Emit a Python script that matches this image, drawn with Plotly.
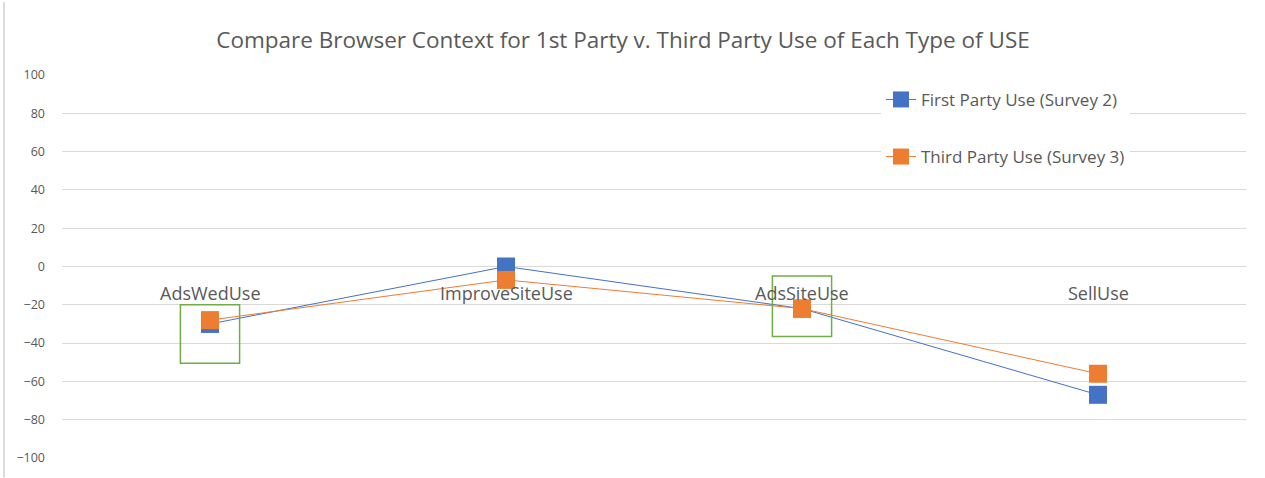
import plotly.graph_objects as go

categories = ["AdsWedUse", "ImproveSiteUse", "AdsSiteUse", "SellUse"]
first_party = [-30, 0, -22, -67]
third_party = [-28, -7, -22, -56]
y_ticks = [100, 80, 60, 40, 20, 0, -20, -40, -60, -80, -100]
series_names = ["First Party Use (Survey 2)", "Third Party Use (Survey 3)"]
highlight_idx = [0, 2]
highlight_ranges = [(-20, -50.5), (-5, -36.5)]

BLUE = "#4472C4"
ORANGE = "#ED7D31"
GREEN = "#70AD47"
TXT = "#595959"
FONT = "Open Sans"

x = list(range(len(categories)))
fig = go.Figure()
for name, vals, col, grp in [(series_names[0], first_party, BLUE, "a"),
                             (series_names[1], third_party, ORANGE, "b")]:
    fig.add_trace(go.Scatter(
        x=x, y=vals, mode="lines+markers", name=name, legendgroup=grp,
        line=dict(color=col, width=1),
        marker=dict(symbol="square", size=18, color=col, line=dict(width=0)),
    ))

# category labels next to the zero axis
for i, c in enumerate(categories):
    fig.add_annotation(x=i, y=0, text=c, showarrow=False, yanchor="middle",
                       yshift=-26, font=dict(family=FONT, size=18, color=TXT))

# green highlight boxes
for i, (y0, y1) in zip(highlight_idx, highlight_ranges):
    fig.add_shape(type="rect", xref="x", yref="y", x0=i - 0.1, x1=i + 0.1,
                  y0=y0, y1=y1, line=dict(color=GREEN, width=1.5),
                  fillcolor="rgba(0,0,0,0)")

# left page border line
fig.add_shape(type="line", xref="paper", yref="paper", x0=-0.049, x1=-0.049,
              y0=-0.05, y1=1.19, line=dict(color="#d0d0d0", width=1.5))

fig.update_layout(
    width=1265, height=478,
    margin=dict(l=62, r=19, t=75, b=14),
    paper_bgcolor="white", plot_bgcolor="white",
    title=dict(text="Compare Browser Context for 1st Party v. Third Party Use of Each Type of USE",
               x=623 / 1265, xanchor="center", y=1 - 40 / 478, yanchor="middle",
               font=dict(family=FONT, size=22.5, color=TXT)),
    xaxis=dict(range=[-0.5, 3.5], showticklabels=False, showgrid=False,
               zeroline=False, showline=False),
    yaxis=dict(range=[-100, 100], tickvals=y_ticks, showgrid=True,
               gridcolor="#d9d9d9", gridwidth=1, zeroline=False, showline=False,
               ticks="", ticklabelstandoff=16,
               tickfont=dict(family=FONT, size=12.5, color=TXT)),
    legend=dict(x=(881 - 62) / 1184, y=(464 - 82) / 389, xanchor="left",
                yanchor="top", bgcolor="white", traceorder="grouped",
                tracegroupgap=32, font=dict(family=FONT, size=17, color=TXT)),
    showlegend=True,
)

fig.write_html("out.html", config={"displayModeBar": False},
               post_script="document.body.style.margin='0';")
